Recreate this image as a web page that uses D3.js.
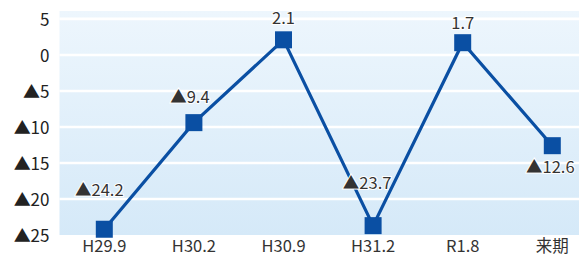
<!DOCTYPE html>
<html lang="ja">
<head>
  <meta charset="utf-8">
  <title></title>
  <script src="https://d3js.org/d3.v7.min.js"></script>
</head>
<style media="screen">
  body {
    margin: 0;
    background: #ffffff;
    overflow: hidden;
  }
  text {
    font-family: "Noto Sans CJK JP", "Noto Sans", sans-serif;
  }
</style>
<body>
  <div id="my_dataviz"></div>
</body>
<script>
  // data
  var periods = ["H29.9", "H30.2", "H30.9", "H31.2", "R1.8", "来期"];
  var values = [-24.2, -9.4, 2.1, -23.7, 1.7, -12.6];
  var yTicks = [5, 0, -5, -10, -15, -20, -25];
  // label placement relative to each marker (dx, dy of baseline)
  var labelDx = [-5, -4, 0, -6, 0, -2];
  var labelDy = [-33, -20, -16, -37, -14, 27];

  // negative numbers are written with a black triangle
  function fmt(v) {
    return v < 0 ? "▲" + Math.abs(v) : String(v);
  }

  var margin = { top: 11, left: 59.5 },
    fullW = 579, fullH = 259,
    bandW = 89.6,
    width = bandW * periods.length,
    height = 224;

  var svg = d3.select("#my_dataviz")
    .append("svg")
    .attr("width", fullW)
    .attr("height", fullH);

  var defs = svg.append("defs");
  var grad = defs.append("linearGradient")
    .attr("id", "bg")
    .attr("x1", 0).attr("y1", 0).attr("x2", 0).attr("y2", 1);
  grad.append("stop").attr("offset", "0%").attr("stop-color", "#edf6fd");
  grad.append("stop").attr("offset", "100%").attr("stop-color", "#d5e9f8");

  var g = svg.append("g")
    .attr("transform", "translate(" + margin.left + "," + margin.top + ")");

  var x = d3.scaleBand()
    .domain(periods)
    .range([0, width]);

  var y = d3.scaleLinear()
    .domain([-25, 6.1])
    .range([height, 0]);

  // plot background
  g.append("rect")
    .attr("width", width)
    .attr("height", height)
    .attr("fill", "url(#bg)");

  // white grid lines
  g.append("g")
    .selectAll("line")
    .data(yTicks.filter(function(d) { return d > -25; }))
    .enter()
    .append("line")
    .attr("x1", 0)
    .attr("x2", width)
    .attr("y1", function(d) { return y(d); })
    .attr("y2", function(d) { return y(d); })
    .attr("stroke", "#ffffff")
    .attr("stroke-width", 2.6);

  // Y axis
  var yAxis = g.append("g")
    .attr("transform", "translate(-7,0)")
    .call(d3.axisLeft(y).tickValues(yTicks).tickSize(0).tickFormat(fmt));
  yAxis.select(".domain").remove();
  yAxis.selectAll("text")
    .attr("font-size", 17)
    .attr("fill", "#222")
    .attr("dy", "0.36em")
    .style("font-family", "\"Noto Sans CJK JP\", sans-serif");

  // X axis
  var xAxis = g.append("g")
    .attr("transform", "translate(0," + height + ")")
    .call(d3.axisBottom(x).tickSize(0));
  xAxis.select(".domain").remove();
  xAxis.selectAll("text")
    .attr("font-size", 16.5)
    .attr("fill", "#333")
    .attr("y", 2)
    .attr("dy", "0.9em")
    .style("font-family", "\"Noto Sans CJK JP\", sans-serif");

  var cx = function(d, i) { return x(periods[i]) + x.bandwidth() / 2; };

  // line
  g.append("path")
    .datum(values)
    .attr("fill", "none")
    .attr("stroke", "#0a4fa3")
    .attr("stroke-width", 3.2)
    .attr("d", d3.line()
      .x(function(d, i) { return cx(d, i); })
      .y(function(d) { return y(d); }));

  // square markers
  var ms = 17;
  g.append("g")
    .selectAll("rect")
    .data(values)
    .enter()
    .append("rect")
    .attr("x", function(d, i) { return cx(d, i) - ms / 2; })
    .attr("y", function(d) { return y(d) - ms / 2; })
    .attr("width", ms)
    .attr("height", ms)
    .attr("fill", "#0a4fa3");

  // value labels
  g.append("g")
    .selectAll("text")
    .data(values)
    .enter()
    .append("text")
    .attr("x", function(d, i) { return cx(d, i) + labelDx[i]; })
    .attr("y", function(d, i) { return y(d) + labelDy[i]; })
    .attr("text-anchor", "middle")
    .attr("font-size", 16.5)
    .attr("fill", "#333")
    .attr("stroke", "#ffffff")
    .attr("stroke-width", 2)
    .attr("paint-order", "stroke")
    .text(fmt);
</script>
</html>
